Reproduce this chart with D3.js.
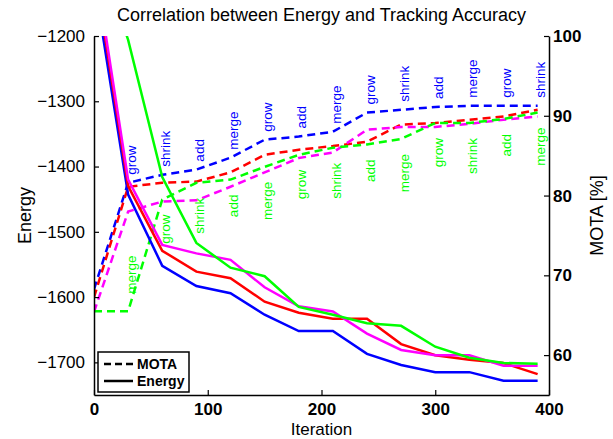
<!DOCTYPE html>
<html>
<head>
<meta charset="utf-8">
<script src="https://cdn.jsdelivr.net/npm/d3@7"></script>
<style>
  body { margin: 0; background: #fff; }
  svg { font-family: "Liberation Sans", Arial, Helvetica, sans-serif; }
</style>
</head>
<body>
<svg id="chart" width="613" height="439"></svg>
<script>
const iterations = [0, 30, 60, 90, 120, 150, 180, 210, 240, 270, 300, 330, 360, 390];

const energyBlue = [-1114, -1443, -1552, -1583, -1594, -1627, -1652, -1652, -1687, -1704, -1715, -1715, -1728, -1728];
const energyRed = [-1092, -1430, -1529, -1561, -1571, -1607, -1624, -1633, -1633, -1672, -1689, -1696, -1701, -1718];
const energyMagenta = [-1082, -1420, -1520, -1533, -1543, -1585, -1614, -1622, -1656, -1681, -1689, -1689, -1705, -1705];
const energyGreen = [-1050, -1206, -1416, -1517, -1555, -1568, -1615, -1627, -1640, -1644, -1676, -1693, -1701, -1702];

const motaBlue = [68.25, 81.6, 82.6, 83.25, 84.75, 87, 87.4, 88, 90.4, 90.75, 91.1, 91.25, 91.25, 91.25];
const motaRed = [67.25, 81.1, 81.6, 81.75, 82.9, 85.1, 85.75, 86.2, 86.75, 88.9, 89.1, 89.5, 89.9, 90.75];
const motaMagenta = [65.4, 78, 79.25, 79.4, 81.1, 82.9, 84.7, 85.4, 88.25, 88.6, 88.6, 89, 89.5, 89.9];
const motaGreen = [65.5, 65.5, 79.5, 81.6, 82, 83.6, 85.1, 86, 86.4, 87.1, 89.1, 89.1, 89.6, 90.4];

// moves applied at iterations 30..390
const blueOps = ["grow", "shrink", "add", "merge", "grow", "add", "merge", "grow", "shrink", "add", "merge", "grow", "shrink"];
const greenOps = ["merge", "grow", "shrink", "add", "merge", "grow", "shrink", "add", "merge", "grow", "shrink", "add", "merge"];

const energyTicks = [-1200, -1300, -1400, -1500, -1600, -1700];
const motaTicks = [60, 70, 80, 90, 100];
const iterTicks = [0, 100, 200, 300, 400];

const series = [
  { color: "#0000ff", energy: energyBlue, mota: motaBlue },
  { color: "#ff0000", energy: energyRed, mota: motaRed },
  { color: "#ff00ff", energy: energyMagenta, mota: motaMagenta },
  { color: "#00ff00", energy: energyGreen, mota: motaGreen }
];

const margin = { top: 36, right: 64, bottom: 44, left: 94 };
const width = 613 - margin.left - margin.right;
const height = 439 - margin.top - margin.bottom;

const svg = d3.select("#chart")
  .append("g")
  .attr("transform", `translate(${margin.left},${margin.top})`);

const x = d3.scaleLinear().domain([0, 400]).range([0, width]);
const yL = d3.scaleLinear().domain([-1750, -1200]).range([height, 0]);
const yR = d3.scaleLinear().domain([55, 100]).range([height, 0]);

svg.append("clipPath").attr("id", "clip")
  .append("rect").attr("width", width).attr("height", height);

const plot = svg.append("g").attr("clip-path", "url(#clip)");

const energyLine = d3.line().x((d, i) => x(iterations[i])).y(d => yL(d));
const motaLine = d3.line().x((d, i) => x(iterations[i])).y(d => yR(d));

series.forEach(s => {
  plot.append("path")
    .attr("d", motaLine(s.mota))
    .attr("fill", "none")
    .attr("stroke", s.color)
    .attr("stroke-width", 2.5)
    .attr("stroke-dasharray", "8,5");
});

series.forEach(s => {
  plot.append("path")
    .attr("d", energyLine(s.energy))
    .attr("fill", "none")
    .attr("stroke", s.color)
    .attr("stroke-width", 2.5);
});

// operation labels above the blue MOTA curve
svg.selectAll(".blue-op")
  .data(blueOps)
  .enter()
  .append("text")
  .attr("class", "blue-op")
  .attr("transform", (d, i) => `translate(${x(iterations[i + 1]) + 3},${yR(motaBlue[i + 1]) - 8}) rotate(-90)`)
  .attr("dy", "0.35em")
  .attr("text-anchor", "start")
  .attr("fill", "#0000ff")
  .style("font-size", "13.5px")
  .text(d => d);

// operation labels below the green MOTA curve
svg.selectAll(".green-op")
  .data(greenOps)
  .enter()
  .append("text")
  .attr("class", "green-op")
  .attr("transform", (d, i) => {
    const ty = i === 0
      ? yR((motaGreen[1] + motaGreen[2]) / 2)
      : yR(motaGreen[i + 1]) + 15;
    return `translate(${x(iterations[i + 1]) + 3},${ty}) rotate(-90)`;
  })
  .attr("dy", "0.35em")
  .attr("text-anchor", "end")
  .attr("fill", "#00ff00")
  .style("font-size", "13.5px")
  .text(d => d);

// axes
const fmt = d3.format("d");

const leftAxis = svg.append("g")
  .call(d3.axisLeft(yL).tickValues(energyTicks).tickFormat(fmt).tickSizeInner(-5).tickSizeOuter(0).tickPadding(9));
leftAxis.selectAll("text").style("font-size", "17px").style("font-weight", "normal");

const rightAxis = svg.append("g")
  .attr("transform", `translate(${width},0)`)
  .call(d3.axisRight(yR).tickValues(motaTicks).tickFormat(fmt).tickSizeInner(-5).tickSizeOuter(0).tickPadding(4));
rightAxis.selectAll("text").style("font-size", "17px").style("font-weight", "bold");

const bottomAxis = svg.append("g")
  .attr("transform", `translate(0,${height})`)
  .call(d3.axisBottom(x).tickValues(iterTicks).tickFormat(fmt).tickSizeInner(-5).tickSizeOuter(0).tickPadding(8));
bottomAxis.selectAll("text").style("font-size", "17px").style("font-weight", "bold");

[leftAxis, rightAxis, bottomAxis].forEach(a => {
  a.select(".domain").attr("stroke-width", 1.5);
  a.selectAll(".tick line").attr("stroke-width", 1.2);
  a.selectAll("text").attr("fill", "#000");
});

// titles
svg.append("text")
  .attr("x", width / 2)
  .attr("y", -15)
  .attr("text-anchor", "middle")
  .style("font-size", "18px")
  .text("Correlation between Energy and Tracking Accuracy");

svg.append("text")
  .attr("x", width / 2)
  .attr("y", height + 40)
  .attr("text-anchor", "middle")
  .style("font-size", "17px")
  .text("Iteration");

svg.append("text")
  .attr("transform", `translate(-63,${height / 2}) rotate(-90)`)
  .attr("text-anchor", "middle")
  .style("font-size", "18px")
  .text("Energy");

svg.append("text")
  .attr("transform", `translate(${width + 54},${height / 2}) rotate(-90)`)
  .attr("text-anchor", "middle")
  .style("font-size", "18px")
  .text("MOTA [%]");

// legend
const legend = svg.append("g").attr("transform", `translate(4,${height - 43})`);
legend.append("rect")
  .attr("width", 91).attr("height", 40)
  .attr("fill", "#fff").attr("stroke", "#000").attr("stroke-width", 1.5);

const legendItems = [
  { label: "MOTA", dash: "7,4" },
  { label: "Energy", dash: null }
];
legendItems.forEach((d, i) => {
  const ly = 12 + i * 17;
  legend.append("line")
    .attr("x1", 6).attr("x2", 35)
    .attr("y1", ly).attr("y2", ly)
    .attr("stroke", "#000").attr("stroke-width", 2.5)
    .attr("stroke-dasharray", d.dash);
  legend.append("text")
    .attr("x", 39).attr("y", ly)
    .attr("dy", "0.35em")
    .style("font-size", "14px")
    .style("font-weight", "bold")
    .text(d.label);
});
</script>
</body>
</html>
